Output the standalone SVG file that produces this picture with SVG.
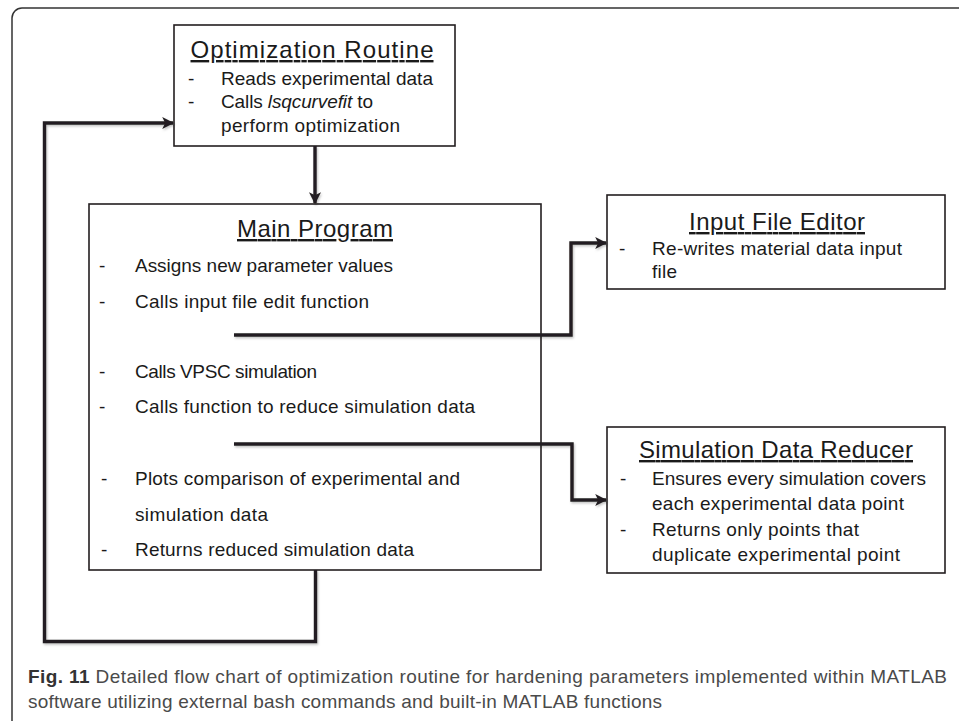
<svg xmlns="http://www.w3.org/2000/svg" width="959" height="721" viewBox="0 0 959 721">
<defs>
<style>
.box{fill:#fff;stroke:#231f20;stroke-width:1.6}
.t{font-family:"Liberation Sans",Arial,sans-serif;fill:#1a1a1a}
.title{font-size:24px;text-anchor:middle;text-decoration:underline}
.body{font-size:19px}
.conn{fill:none;stroke:#231f20;stroke-width:3.4;stroke-linejoin:miter}
.cap{font-family:"Liberation Sans",Arial,sans-serif;font-size:19px;fill:#4a4a4a}
</style>
<marker id="arr" viewBox="0 0 10 10" refX="9" refY="5" markerWidth="12" markerHeight="13" markerUnits="userSpaceOnUse" orient="auto">
<path d="M0,0 L10,5 L0,10 L2.5,5 z" fill="#231f20"/>
</marker>
<filter id="sh" x="-5%" y="-5%" width="110%" height="110%">
<feDropShadow dx="1" dy="1.5" stdDeviation="1" flood-color="#000" flood-opacity="0.25"/>
</filter>
</defs>
<rect x="12" y="8" width="970" height="730" rx="10" fill="#fff" stroke="#333" stroke-width="1.5"/>

<g id="optimization-routine">
<rect class="box" x="174" y="25" width="281" height="121"/>
<text class="t title" x="312" y="58" textLength="243">Optimization Routine</text>
<text class="t body" x="188" y="85">-</text>
<text class="t body" x="221" y="85" textLength="212">Reads experimental data</text>
<text class="t body" x="188" y="108">-</text>
<text class="t body" x="221" y="108" textLength="152">Calls <tspan font-style="italic">lsqcurvefit</tspan> to</text>
<text class="t body" x="221" y="132" textLength="179">perform optimization</text>
</g>

<g id="main-program">
<rect class="box" x="89" y="204" width="452" height="366"/>
<text class="t title" x="315" y="237" textLength="156">Main Program</text>
<text class="t body" x="99" y="272">-</text>
<text class="t body" x="135" y="272" textLength="258">Assigns new parameter values</text>
<text class="t body" x="99" y="308">-</text>
<text class="t body" x="135" y="308" textLength="234">Calls input file edit function</text>
<text class="t body" x="99" y="378">-</text>
<text class="t body" x="135" y="378" textLength="182">Calls VPSC simulation</text>
<text class="t body" x="99" y="413">-</text>
<text class="t body" x="135" y="413" textLength="340">Calls function to reduce simulation data</text>
<text class="t body" x="101" y="485">-</text>
<text class="t body" x="135" y="485" textLength="325">Plots comparison of experimental and</text>
<text class="t body" x="135" y="521" textLength="133">simulation data</text>
<text class="t body" x="101" y="556">-</text>
<text class="t body" x="135" y="556" textLength="279">Returns reduced simulation data</text>
</g>

<g id="input-file-editor">
<rect class="box" x="607" y="195" width="338" height="94"/>
<text class="t title" x="777" y="230" textLength="176">Input File Editor</text>
<text class="t body" x="619" y="255">-</text>
<text class="t body" x="652" y="255" textLength="250">Re-writes material data input</text>
<text class="t body" x="652" y="278" textLength="25">file</text>
</g>

<g id="simulation-data-reducer">
<rect class="box" x="607" y="427" width="338" height="146"/>
<text class="t title" x="776" y="458" textLength="274">Simulation Data Reducer</text>
<text class="t body" x="620" y="485">-</text>
<text class="t body" x="652" y="485" textLength="274">Ensures every simulation covers</text>
<text class="t body" x="652" y="510" textLength="252">each experimental data point</text>
<text class="t body" x="620" y="536">-</text>
<text class="t body" x="652" y="536" textLength="207">Returns only points that</text>
<text class="t body" x="652" y="561" textLength="248">duplicate experimental point</text>
</g>

<g id="connectors" filter="url(#sh)">
<path class="conn" d="M315.5,570 V641.5 H44.5 V123 H173" marker-end="url(#arr)"/>
<path class="conn" d="M315,146 V203" marker-end="url(#arr)"/>
<path class="conn" d="M234,335 H571 V243 H606" marker-end="url(#arr)"/>
<path class="conn" d="M234,444 H572 V500 H606" marker-end="url(#arr)"/>
</g>

<g id="caption">
<text class="cap" x="28" y="683" textLength="919"><tspan font-weight="bold" fill="#333">Fig. 11</tspan> Detailed flow chart of optimization routine for hardening parameters implemented within MATLAB</text>
<text class="cap" x="28" y="708" textLength="634">software utilizing external bash commands and built-in MATLAB functions</text>
</g>
</svg>
